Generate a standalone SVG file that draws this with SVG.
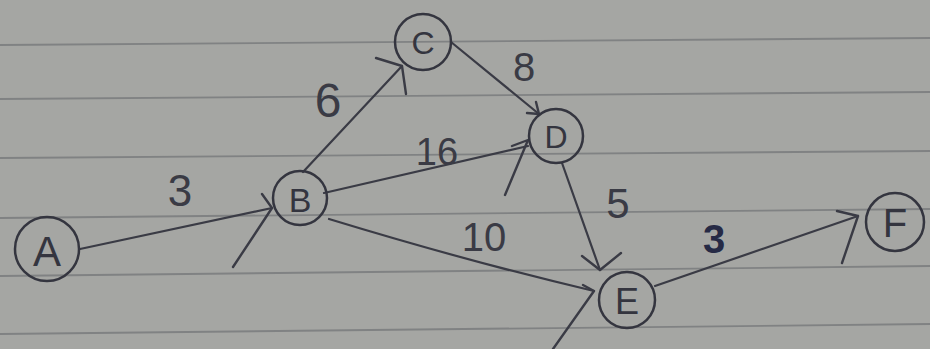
<svg xmlns="http://www.w3.org/2000/svg" width="930" height="349" viewBox="0 0 930 349">
<style>
.paper{fill:#a5a6a3}
.rule{stroke:#808283;stroke-width:1.8;fill:none}
.node circle{fill:none;stroke:#34353f;stroke-width:2.5}
.node text{font-family:"Liberation Sans","DejaVu Sans",sans-serif;fill:#34353f;text-anchor:middle;dominant-baseline:central}
.edge{stroke:#3a3b45;stroke-width:2.2;fill:none;stroke-linecap:round}
.barb{stroke:#3a3b45;stroke-width:2.4;fill:none;stroke-linecap:round;stroke-linejoin:round}
.w{font-family:"Liberation Sans","DejaVu Sans",sans-serif;fill:#3a3b45;text-anchor:middle;dominant-baseline:central}
</style>
<rect class="paper" x="0" y="0" width="930" height="349"/>
<g id="paper-lines">
<path class="rule" d="M0 45 L930 38"/>
<path class="rule" d="M0 99 L930 92"/>
<path class="rule" d="M0 158 L930 151"/>
<path class="rule" d="M0 218 L930 209"/>
<path class="rule" d="M0 276 L930 266"/>
<path class="rule" d="M0 334 L930 324"/>
</g>
<g id="connectors">
<g id="e-AB"><path class="edge" d="M80 249 L272 208"/><path class="barb" d="M262 194 L272 208 L233 267"/></g>
<g id="e-BC"><path class="edge" d="M303 172 L402 66"/><path class="barb" d="M376 58 L402 66 L406 94"/></g>
<g id="e-CD"><path class="edge" d="M451 42 L539 114"/><path class="barb" d="M536 102 L539 114 L527 113"/></g>
<g id="e-BD"><path class="edge" d="M324 193 L528 146"/><path class="barb" d="M512 146 L528 140 L505 195"/></g>
<g id="e-DE"><path class="edge" d="M562 163 L600 270"/><path class="barb" d="M582 256 L600 270 L621 253"/></g>
<g id="e-BE"><path class="edge" d="M329 219 Q470 262 594 291"/><path class="barb" d="M583 285 L594 291 L553 349"/></g>
<g id="e-EF"><path class="edge" d="M655 286 L858 216"/><path class="barb" d="M837 211 L858 216 L842 263"/></g>
<g id="weights">
<text class="w" x="180" y="190" font-size="44">3</text>
<text class="w" x="328" y="100" font-size="48">6</text>
<text class="w" x="524" y="67" font-size="40">8</text>
<text class="w" x="437" y="152" font-size="38">16</text>
<text class="w" x="484" y="237" font-size="40">10</text>
<text class="w" x="618" y="203" font-size="42">5</text>
<text class="w" x="714" y="239" font-size="40" style="fill:#262a45;font-weight:bold">3</text>
</g>
</g>
<g id="node-A" class="node"><circle cx="47" cy="249" r="32"/><text x="47" y="251" font-size="42">A</text></g>
<g id="node-B" class="node"><circle cx="300" cy="198" r="27"/><text x="300" y="200" font-size="34">B</text></g>
<g id="node-C" class="node"><circle cx="423" cy="42" r="28"/><text x="423" y="43" font-size="32">C</text></g>
<g id="node-D" class="node"><circle cx="556" cy="136" r="27"/><text x="556" y="137" font-size="32">D</text></g>
<g id="node-E" class="node"><circle cx="627" cy="300" r="28"/><text x="627" y="301" font-size="36">E</text></g>
<g id="node-F" class="node"><circle cx="895" cy="222" r="29"/><text x="895" y="223" font-size="40">F</text></g>
</svg>
